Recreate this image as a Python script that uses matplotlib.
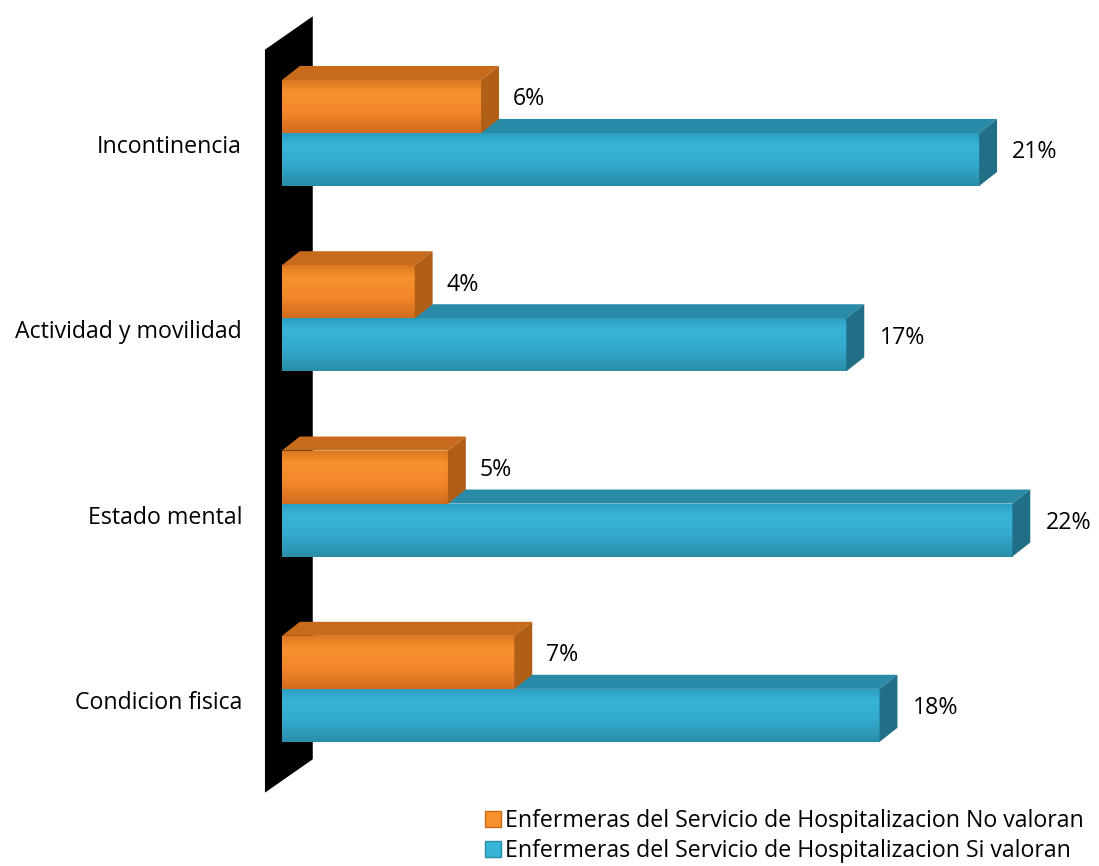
import numpy as np
import matplotlib.pyplot as plt
from matplotlib.patches import Polygon, Rectangle
from matplotlib.lines import Line2D
from matplotlib.colors import LinearSegmentedColormap

categories = ["Incontinencia", "Actividad y movilidad", "Estado mental", "Condicion fisica"]
no_valoran = [6, 4, 5, 7]
si_valoran = [21, 17, 22, 18]
series_names = ["Enfermeras del Servicio de Hospitalizacion No valoran",
                "Enfermeras del Servicio de Hospitalizacion Si valoran"]

# front gradient / top / side colours of the two series
orange = (["#DC7822", "#F7912D", "#F2872A", "#D26C1E"], "#C86A1C", "#B15E17")
blue = (["#2D9EC2", "#38B4D9", "#33A9CD", "#2A8DAA"], "#2A8BA8", "#216F87")

plt.rcParams['font.family'] = ['Open Sans', 'DejaVu Sans']
fs = 16.7

fig = plt.figure(figsize=(10.99, 8.66), dpi=100)
ax = fig.add_axes([0, 0, 1, 1])
xlim, ylim = (-8.49, 24.61), (3.956, -0.718)
ax.axis('off')

bar_h = 0.286
dx, dy = 0.54, 0.076  # depth of the fake 3d boxes
grad = np.linspace(0, 1, 64).reshape(-1, 1)


def box(x0, y0, w, h, cols):
    front, top, side = cols
    cmap = LinearSegmentedColormap.from_list("f", list(zip([0, 0.22, 0.6, 1], front)))
    rect = Rectangle((x0, y0), w, h, fc='none', ec='none', zorder=3)
    ax.add_patch(rect)
    im = ax.imshow(grad, cmap=cmap, extent=(x0, x0 + w, y0 + h, y0), aspect='auto',
                   interpolation='bilinear', zorder=3)
    im.set_clip_path(rect)
    ax.add_patch(Polygon([(x0, y0), (x0 + dx, y0 - dy), (x0 + w + dx, y0 - dy), (x0 + w, y0)],
                         fc=top, ec='none', zorder=3))
    ax.add_patch(Polygon([(x0 + w, y0), (x0 + w + dx, y0 - dy), (x0 + w + dx, y0 + h - dy), (x0 + w, y0 + h)],
                         fc=side, ec='none', zorder=3))


# black side wall
n = len(categories)
wl, wr = -0.51, 0.93
ax.add_patch(Polygon([(wl, -0.45), (wr, -0.63), (wr, n - 1 + 0.38), (wl, n - 1 + 0.56)],
                     fc='black', ec='none', zorder=1))

for i, cat in enumerate(categories):
    # blue first so the orange box sits on top of it
    box(0, i, si_valoran[i], bar_h, blue)
    box(0, i - bar_h, no_valoran[i], bar_h, orange)
    ax.text(-1.2, i + dy, cat, ha='right', va='center', fontsize=fs)
    ax.annotate(f"{no_valoran[i]}%", (no_valoran[i] + dx, i - bar_h / 2 - dy / 2),
                xytext=(10, 0), textcoords='offset points', ha='left', va='center', fontsize=fs)
    ax.annotate(f"{si_valoran[i]}%", (si_valoran[i] + dx, i + bar_h / 2 - dy / 2),
                xytext=(11, 0), textcoords='offset points', ha='left', va='center', fontsize=fs)

ax.set_xlim(*xlim)
ax.set_ylim(*ylim)

handles = [Line2D([], [], ls='none', marker='s', ms=11, mfc=orange[0][1], mec=orange[1]),
           Line2D([], [], ls='none', marker='s', ms=11, mfc=blue[0][1], mec=blue[1])]
fig.legend(handles, series_names, loc='upper left', bbox_to_anchor=(485 / 1099, 1 - 809 / 866),
           frameon=False, fontsize=fs, handlelength=0.65, handletextpad=0.22,
           labelspacing=0.28, borderpad=0, borderaxespad=0)

fig.savefig("out.png", dpi=100)
